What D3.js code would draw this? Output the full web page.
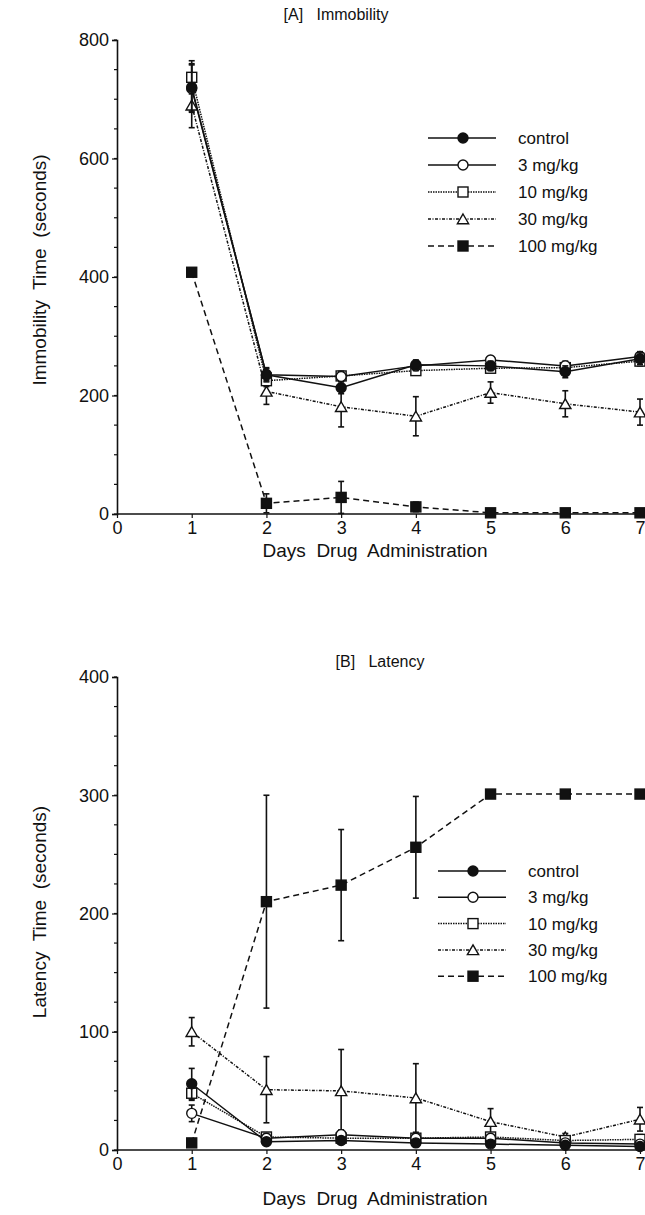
<!DOCTYPE html>
<html>
<head>
<meta charset="utf-8">
<script src="https://d3js.org/d3.v7.min.js"></script>
<style>
  body { margin: 0; background: #fff; }
  text { font-family: "Liberation Sans", Arial, Helvetica, sans-serif; fill: #111; }
</style>
</head>
<body>
<div id="chart"></div>
<script>
// ===============Data
var days = [1, 2, 3, 4, 5, 6, 7];
var groups = ["control", "3 mg/kg", "10 mg/kg", "30 mg/kg", "100 mg/kg"];

// [A] Immobility (seconds) and error bars
var immControl = [720, 235, 213, 252, 250, 240, 262];
var imm3 = [718, 235, 232, 250, 260, 250, 266];
var imm10 = [737, 225, 233, 242, 246, 247, 258];
var imm30 = [690, 207, 181, 165, 205, 186, 172];
var imm100 = [408, 18, 28, 12, 2, 2, 2];
var immErrControl = [40, 12, 10, 8, 8, 10, 10];
var immErr3 = [40, 10, 8, 8, 6, 8, 8];
var immErr10 = [28, 10, 8, 6, 6, 8, 8];
var immErr30 = [38, 22, 34, 33, 18, 22, 22];
var immErr100 = [0, 16, 27, 8, 0, 0, 0];

// [B] Latency (seconds) and error bars
var latControl = [56, 7, 8, 6, 5, 4, 3];
var lat3 = [31, 10, 13, 10, 10, 6, 5];
var lat10 = [48, 11, 10, 10, 11, 8, 9];
var lat30 = [100, 51, 50, 44, 24, 11, 26];
var lat100 = [6, 210, 224, 256, 301, 301, 301];
var latErrControl = [13, 3, 3, 3, 2, 2, 3];
var latErr3 = [7, 4, 4, 3, 3, 2, 2];
var latErr10 = [6, 3, 4, 3, 3, 2, 4];
var latErr30 = [12, 28, 35, 29, 11, 3, 10];
var latErr100 = [0, 90, 47, 43, 0, 0, 0];

var xTicks = [0, 1, 2, 3, 4, 5, 6, 7];

// ===========Styles per group
var styles = {
  "control":   { shape: "circle", fill: "#111", dash: null },
  "3 mg/kg":   { shape: "circle", fill: "#fff", dash: null },
  "10 mg/kg":  { shape: "square", fill: "#fff", dash: "1.5,1" },
  "30 mg/kg":  { shape: "triangle", fill: "#fff", dash: "3,1.5,1,1.5" },
  "100 mg/kg": { shape: "square", fill: "#111", dash: "6,4" }
};

var svg = d3.select("#chart").append("svg")
  .attr("width", 645)
  .attr("height", 1215);

function drawMarker(g, shape, fill, x, y) {
  if (shape === "circle") {
    g.append("circle").attr("cx", x).attr("cy", y).attr("r", 5)
      .attr("fill", fill).attr("stroke", "#111").attr("stroke-width", 1.4);
  } else if (shape === "square") {
    g.append("rect").attr("x", x - 5).attr("y", y - 5).attr("width", 10).attr("height", 10)
      .attr("fill", fill).attr("stroke", "#111").attr("stroke-width", 1.4);
  } else {
    var s = d3.symbol().type(d3.symbolTriangle).size(55);
    g.append("path").attr("d", s).attr("transform", `translate(${x}, ${y + 1.5})`)
      .attr("fill", fill).attr("stroke", "#111").attr("stroke-width", 1.4);
  }
}

// ==========One panel
function drawPanel(opt) {
  var x = d3.scaleLinear().domain([0, 7]).range([117, 640]);
  var y = d3.scaleLinear().domain([0, opt.yMax]).range([opt.yBottom, opt.yTop]);
  var g = svg.append("g");

  // title
  g.append("text")
    .attr("x", opt.titleX).attr("y", opt.titleY)
    .attr("text-anchor", "middle")
    .style("font-size", "16px")
    .style("white-space", "pre")
    .text(opt.title);

  // y axis with minor ticks
  var yAxis = d3.axisLeft(y).tickValues(d3.range(0, opt.yMax + 1, opt.yMax / 4))
    .tickSize(5).tickPadding(3).tickFormat(d3.format("d"));
  var yAx = g.append("g").attr("transform", "translate(117,0)").call(yAxis);
  var minor = d3.range(0, opt.yMax + 1, opt.yMax / 16);
  g.append("g").selectAll("line").data(minor).enter().append("line")
    .attr("x1", 114).attr("x2", 117)
    .attr("y1", d => y(d)).attr("y2", d => y(d))
    .attr("stroke", "#111").attr("stroke-width", 1.2);

  // x axis
  var xAxis = d3.axisBottom(x).tickValues(xTicks).tickSize(4).tickPadding(3).tickFormat(d3.format("d"));
  var xAx = g.append("g").attr("transform", `translate(0, ${opt.yBottom})`).call(xAxis);
  xAx.select(".domain").attr("d", `M117,0H645`);

  [yAx, xAx].forEach(function(a) {
    a.select(".domain").attr("stroke", "#111").attr("stroke-width", 1.6);
    a.selectAll(".tick line").attr("stroke", "#111").attr("stroke-width", 1.2);
    a.selectAll(".tick text").style("font-size", "18px").attr("fill", "#111");
  });

  // axis labels
  g.append("text")
    .attr("transform", `translate(${opt.ylabX}, ${opt.ylabY}) rotate(-90)`)
    .attr("text-anchor", "middle")
    .style("font-size", "19px")
    .style("white-space", "pre")
    .text(opt.yLabel);
  g.append("text")
    .attr("x", 375).attr("y", opt.xlabY)
    .attr("text-anchor", "middle")
    .style("font-size", "19px")
    .style("white-space", "pre")
    .text("Days  Drug  Administration");

  // series, drawn back to front
  var order = [4, 3, 2, 1, 0];
  order.forEach(function(i) {
    var name = groups[i];
    var st = styles[name];
    var vals = opt.values[i];
    var errs = opt.errors[i];
    var pts = days.map((d, j) => ({ day: d, v: vals[j], e: errs[j] }));
    var sg = g.append("g");

    // error bars
    pts.filter(p => p.e > 0).forEach(function(p) {
      var cx = x(p.day);
      sg.append("line").attr("x1", cx).attr("x2", cx)
        .attr("y1", y(p.v - p.e)).attr("y2", y(p.v + p.e))
        .attr("stroke", "#111").attr("stroke-width", 1.6);
      [p.v - p.e, p.v + p.e].forEach(function(v) {
        sg.append("line").attr("x1", cx - 3).attr("x2", cx + 3)
          .attr("y1", y(v)).attr("y2", y(v))
          .attr("stroke", "#111").attr("stroke-width", 1.6);
      });
    });

    var line = d3.line().x(p => x(p.day)).y(p => y(p.v));
    sg.append("path").datum(pts)
      .attr("d", line)
      .attr("fill", "none")
      .attr("stroke", "#111")
      .attr("stroke-width", 1.5)
      .attr("stroke-dasharray", st.dash);

    pts.forEach(function(p) {
      drawMarker(sg, st.shape, st.fill, x(p.day), y(p.v));
    });
  });

  // legend
  var lg = g.append("g");
  groups.forEach(function(name, i) {
    var st = styles[name];
    var ly = opt.legY + i * opt.legStep;
    lg.append("line")
      .attr("x1", opt.legX).attr("x2", opt.legX + 68)
      .attr("y1", ly).attr("y2", ly)
      .attr("stroke", "#111").attr("stroke-width", 1.5)
      .attr("stroke-dasharray", st.dash);
    drawMarker(lg, st.shape, st.fill, opt.legX + 35, ly);
    lg.append("text")
      .attr("x", opt.legX + 90).attr("y", ly + 6)
      .style("font-size", "17px")
      .text(name);
  });
}

drawPanel({
  title: "[A]   Immobility", titleX: 336, titleY: 20,
  yMax: 800, yTop: 40, yBottom: 514,
  yLabel: "Immobility  Time  (seconds)", ylabX: 46, ylabY: 270,
  xlabY: 557,
  values: [immControl, imm3, imm10, imm30, imm100],
  errors: [immErrControl, immErr3, immErr10, immErr30, immErr100],
  legX: 428, legY: 138, legStep: 27
});

drawPanel({
  title: "[B]   Latency", titleX: 380, titleY: 667,
  yMax: 400, yTop: 677, yBottom: 1150,
  yLabel: "Latency  Time  (seconds)", ylabX: 46, ylabY: 912,
  xlabY: 1205,
  values: [latControl, lat3, lat10, lat30, lat100],
  errors: [latErrControl, latErr3, latErr10, latErr30, latErr100],
  legX: 438, legY: 871, legStep: 26.3
});
</script>
</body>
</html>
